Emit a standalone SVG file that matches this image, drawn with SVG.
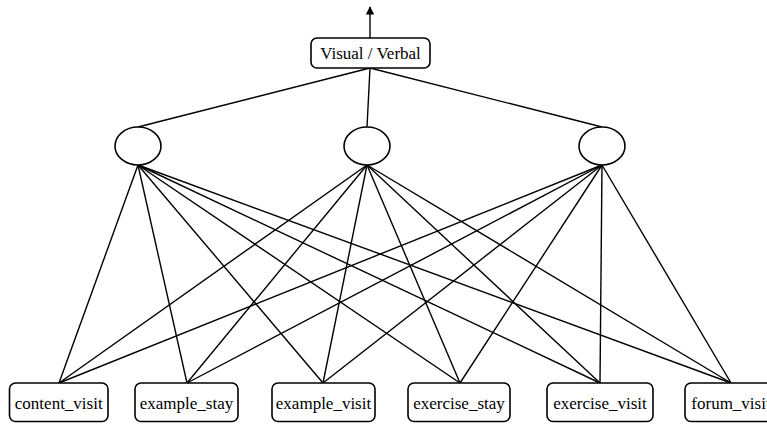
<svg xmlns="http://www.w3.org/2000/svg" width="767" height="424" viewBox="0 0 767 424">
<defs>
<marker id="arr" viewBox="0 0 10 10" refX="9" refY="5" markerWidth="6" markerHeight="6" orient="auto"><path d="M0,0 L10,5 L0,10 z" fill="#000"/></marker>
</defs>
<style>
.box{fill:#fff;stroke:#000;stroke-width:1.6}
.ell{fill:#fff;stroke:#000;stroke-width:1.6}
.t{font-family:'Liberation Serif','Times New Roman','DejaVu Serif',serif;font-size:17px;fill:#000;text-anchor:middle}
.e{stroke:#000;stroke-width:1.4;fill:none}
</style>
<rect width="767" height="424" fill="#fff"/>
<g id="connectors">
<line class="e" x1="370" y1="38" x2="370" y2="7" marker-end="url(#arr)"/>
<line class="e" x1="370" y1="68" x2="138" y2="127"/>
<line class="e" x1="370" y1="68" x2="367" y2="127"/>
<line class="e" x1="370" y1="68" x2="602" y2="127"/>
<line class="e" x1="138" y1="165" x2="59" y2="383"/>
<line class="e" x1="138" y1="165" x2="187" y2="383"/>
<line class="e" x1="138" y1="165" x2="323" y2="383"/>
<line class="e" x1="138" y1="165" x2="460" y2="383"/>
<line class="e" x1="138" y1="165" x2="600" y2="383"/>
<line class="e" x1="138" y1="165" x2="731" y2="383"/>
<line class="e" x1="367" y1="165" x2="59" y2="383"/>
<line class="e" x1="367" y1="165" x2="187" y2="383"/>
<line class="e" x1="367" y1="165" x2="323" y2="383"/>
<line class="e" x1="367" y1="165" x2="460" y2="383"/>
<line class="e" x1="367" y1="165" x2="600" y2="383"/>
<line class="e" x1="367" y1="165" x2="731" y2="383"/>
<line class="e" x1="602" y1="165" x2="59" y2="383"/>
<line class="e" x1="602" y1="165" x2="187" y2="383"/>
<line class="e" x1="602" y1="165" x2="323" y2="383"/>
<line class="e" x1="602" y1="165" x2="460" y2="383"/>
<line class="e" x1="602" y1="165" x2="600" y2="383"/>
<line class="e" x1="602" y1="165" x2="731" y2="383"/>
</g>
<g id="visual_verbal"><rect class="box" x="311" y="38" width="119" height="30" rx="6"/><text class="t" font-family="Liberation Serif, serif" x="370.5" y="59">Visual / Verbal</text></g>
<g id="hidden1"><ellipse class="ell" cx="138" cy="146" rx="23" ry="19"/></g>
<g id="hidden2"><ellipse class="ell" cx="367" cy="146" rx="23" ry="19"/></g>
<g id="hidden3"><ellipse class="ell" cx="602" cy="146" rx="23" ry="19"/></g>
<g id="content_visit"><rect class="box" x="9.5" y="383" width="98.5" height="38.5" rx="6"/><text class="t" x="58.75" y="409">content_visit</text></g>
<g id="example_stay"><rect class="box" x="135" y="383" width="103" height="38.5" rx="6"/><text class="t" x="186.5" y="409">example_stay</text></g>
<g id="example_visit"><rect class="box" x="272" y="383" width="103" height="38.5" rx="6"/><text class="t" x="323.5" y="409">example_visit</text></g>
<g id="exercise_stay"><rect class="box" x="408" y="383" width="102" height="38.5" rx="6"/><text class="t" x="459" y="409">exercise_stay</text></g>
<g id="exercise_visit"><rect class="box" x="547" y="383" width="106" height="38.5" rx="6"/><text class="t" x="600" y="409">exercise_visit</text></g>
<g id="forum_visit"><rect class="box" x="685" y="383" width="94" height="38.5" rx="6"/><text class="t" x="731" y="409">forum_visit</text></g>
</svg>
